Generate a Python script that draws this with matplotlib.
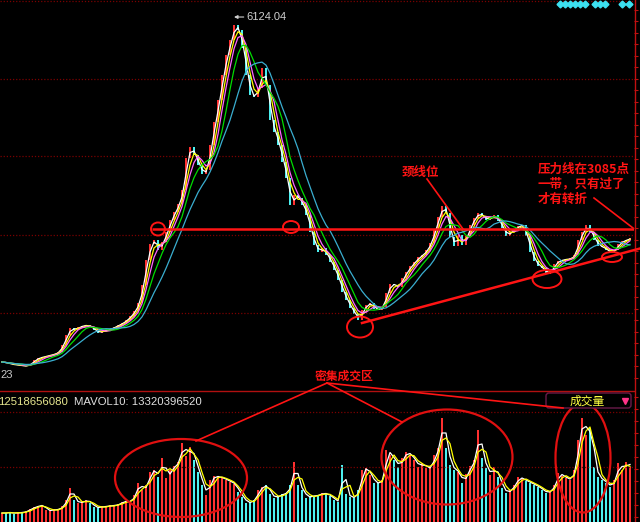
import matplotlib.pyplot as plt
import numpy as np
import pandas as pd
from matplotlib.patches import Ellipse, FancyBboxPatch

plt.rcParams["font.family"] = ["Noto Sans CJK SC", "DejaVu Sans"]

# weekly closes of the index
close = [1178, 1164, 1150, 1135, 1135, 1121, 1121, 1150, 1207, 1236,
         1250, 1264, 1279, 1293, 1322, 1422, 1566, 1666, 1637, 1680,
         1695, 1709, 1680, 1637, 1594, 1623, 1637, 1652, 1680, 1709,
         1738, 1781, 1838, 1910, 2024, 2282, 2641, 2870, 2927, 2784,
         2899, 3042, 3214, 3329, 3443, 3644, 4103, 4260, 4146, 4002,
         3873, 3931, 4289, 4619, 4934, 5293, 5579, 5794, 6009, 5938,
         5680, 5293, 5006, 4977, 5106, 5393, 5149, 4648, 4476, 4289,
         4045, 3816, 3429, 3572, 3529, 3429, 3286, 3042, 2856, 2755,
         2813, 2712, 2612, 2497, 2354, 2182, 2067, 1952, 1866, 1781,
         1924, 1995, 2024, 1938, 1924, 1967, 2167, 2297, 2282, 2254,
         2383, 2469, 2555, 2612, 2684, 2712, 2784, 2884, 3071, 3257,
         3415, 3314, 2970, 2841, 2999, 2856, 2985, 3142, 3243, 3314,
         3271, 3214, 3243, 3286, 3200, 3099, 2985, 3042, 3085, 3128,
         3142, 2985, 2755, 2626, 2555, 2526, 2440, 2469, 2583, 2626,
         2641, 2655, 2655, 2712, 2927, 3042, 3142, 3042, 2927, 2841,
         2827, 2784, 2741, 2784, 2870, 2913, 2927, 2956]

# weekly volume (100 million shares)
volume = [18, 18, 20, 16, 20, 18, 22, 26, 30, 32,
          34, 24, 22, 26, 24, 32, 44, 68, 44, 38,
          40, 44, 38, 30, 28, 32, 30, 34, 32, 36,
          40, 42, 40, 54, 78, 64, 74, 100, 104, 90,
          128, 88, 104, 112, 120, 158, 132, 150, 124, 100,
          74, 54, 84, 92, 90, 88, 84, 80, 76, 60,
          50, 38, 40, 44, 64, 70, 74, 56, 48, 52,
          56, 58, 74, 120, 74, 64, 48, 52, 52, 54,
          58, 56, 52, 44, 40, 114, 56, 50, 48, 64,
          104, 108, 94, 78, 78, 84, 144, 134, 124, 110,
          128, 140, 134, 124, 110, 118, 108, 108, 134, 148,
          208, 148, 114, 104, 100, 78, 96, 112, 124, 184,
          128, 108, 94, 110, 90, 68, 58, 64, 74, 90,
          86, 82, 78, 74, 70, 64, 58, 62, 74, 98,
          92, 88, 84, 104, 164, 208, 174, 188, 110, 90,
          84, 78, 70, 84, 118, 104, 120, 110]

price_grid = [1881, 3000, 4131, 5235, 6353]
vol_grid = [110, 220]
peak = 6124.04
pressure = 3085
ma_windows = [2, 3, 4, 6, 10]
ma_colors = ["#ffffff", "#ffff00", "#ff66ff", "#00dd00", "#3aaed0"]
vol_ma_windows = [2, 3]
vol_ma_colors = ["#ffffff", "#ffff00"]

UP = "#ff3030"
DOWN = "#4cf0f0"
RED = "#ff1414"
GRID = "#7a0000"
W, H = 640, 522

fig = plt.figure(figsize=(6.4, 5.22), dpi=100, facecolor="black")
ax = fig.add_axes([0, 132 / H, 634 / W, 390 / H])
axv = fig.add_axes([0, 0, 634 / W, 130 / H])
over = fig.add_axes([0, 0, 1, 1])

x = np.arange(len(close))
c = np.array(close, float)
o = np.r_[c[0], c[:-1]]
colors = np.where(c >= o, UP, DOWN)

# price panel
ax.set_facecolor("black")
for g in price_grid:
    ax.axhline(g, color=GRID, ls=(0, (1, 1.5)), lw=0.9)
ax.bar(x, np.maximum(abs(c - o), 15), bottom=np.minimum(o, c), width=0.7,
       color=colors, lw=0)
s = pd.Series(c)
for w, col in zip(ma_windows, ma_colors):
    ax.plot(x, s.rolling(w, min_periods=1).mean(), color=col, lw=0.9)
ax.hlines(pressure, 37.5, 158, color=RED, lw=1.8, zorder=5)
ipk = int(np.argmax(c))
ax.annotate(f"{peak:.2f}", xy=(ipk, peak), xytext=(9, 0), textcoords="offset points",
            va="center", ha="left", color="#d0d0d0", fontsize=8,
            family="Liberation Sans",
            arrowprops=dict(arrowstyle="-|>", color="#d0d0d0", lw=0.8,
                            mutation_scale=5, shrinkA=0, shrinkB=0))
ax.set_xlim(-0.5, 158)
ax.set_ylim(777, 6368)
ax.set_xticks([])
ax.yaxis.tick_right()
ax.set_yticks(np.arange(950, 6368, 165))
ax.tick_params(axis="y", colors="#c01010", length=3, labelright=False, width=0.8)
for side in ["top", "left", "bottom", "right"]:
    ax.spines[side].set_visible(False)

# volume panel
axv.set_facecolor("black")
for g in vol_grid:
    axv.axhline(g, color=GRID, ls=(0, (1, 1.5)), lw=0.9)
axv.bar(x, volume, width=0.7, color=colors, lw=0)
vs = pd.Series(volume, dtype=float)
for w, col in zip(vol_ma_windows, vol_ma_colors):
    axv.plot(x, vs.rolling(w, min_periods=1).mean(), color=col, lw=0.9)
axv.set_xlim(-0.5, 158)
axv.set_ylim(0, 260)
axv.set_xticks([])
axv.yaxis.tick_right()
axv.set_yticks(np.arange(10, 260, 24))
axv.tick_params(axis="y", colors="#c01010", length=3, labelright=False, width=0.8)
for side in ["top", "left", "bottom", "right"]:
    axv.spines[side].set_visible(False)

# overlay in pixel coordinates for the hand-drawn notes
over.set_xlim(0, W)
over.set_ylim(H, 0)
over.axis("off")
over.patch.set_alpha(0)

over.plot([0, 634], [390.5, 390.5], color="#b01010", lw=1)
over.plot([634.5, 634.5], [0, H], color="#c01010", lw=1)
over.plot([362, 640], [323, 248.5], color=RED, lw=1.8)

for cx, cy, w, h in [(158, 229, 14, 13), (291, 227, 16, 12), (360, 327, 26, 21),
                     (547, 279, 29, 18), (612, 257, 20, 10)]:
    over.add_patch(Ellipse((cx, cy), w, h, fill=False, ec=RED, lw=1.4))
for cx, cy, w, h in [(181, 478, 132, 78), (447, 457, 131, 95), (583, 458, 55, 109)]:
    over.add_patch(Ellipse((cx, cy), w, h, fill=False, ec="#e01010", lw=1.6))

note = dict(color=RED, fontsize=9, fontweight="bold", va="center")
over.text(402, 172, "颈线位", ha="left", **note)
over.plot([427, 463], [179, 229], color=RED, lw=1.2)
over.text(538, 169, "压力线在3085点", ha="left", **note)
over.text(538, 184, "一带，只有过了", ha="left", **note)
over.text(538, 199, "才有转折", ha="left", **note)
over.plot([594, 633], [198, 228], color=RED, lw=1.2)

over.text(344, 376, "密集成交区", ha="center", color=RED, fontsize=8.5,
          fontweight="bold", va="center")
for ex, ey in [(196, 441), (402, 422), (563, 408)]:
    over.plot([327, ex], [383, ey], color=RED, lw=1.2)

over.text(0, 375, "23", color="#c8c8c8", fontsize=8, family="Liberation Sans",
          va="center", ha="left")
over.text(-1.5, 402, "12518656080", color="#e8e890", fontsize=8.2,
          family="Liberation Sans", va="center", ha="left")
over.text(74, 402, "MAVOL10: 13320396520", color="#e0e0e0", fontsize=8.2,
          family="Liberation Sans", va="center", ha="left")

over.add_patch(FancyBboxPatch((546, 393), 85, 15, boxstyle="round,pad=0,rounding_size=3",
                              fc="black", ec="#6a1a4a", lw=1))
over.text(587, 401, "成交量", color="#ffff40", fontsize=8.5, ha="center", va="center")
over.plot([625], [401], marker="v", color="#ff3388", ms=5, ls="none")

over.plot([560, 565, 570, 575, 580, 585, 595, 600, 605, 622, 629], [4] * 11,
          marker="D", color="#3de0f0", ms=3.5, ls="none")

fig.savefig("out.png", dpi=100, facecolor="black")
